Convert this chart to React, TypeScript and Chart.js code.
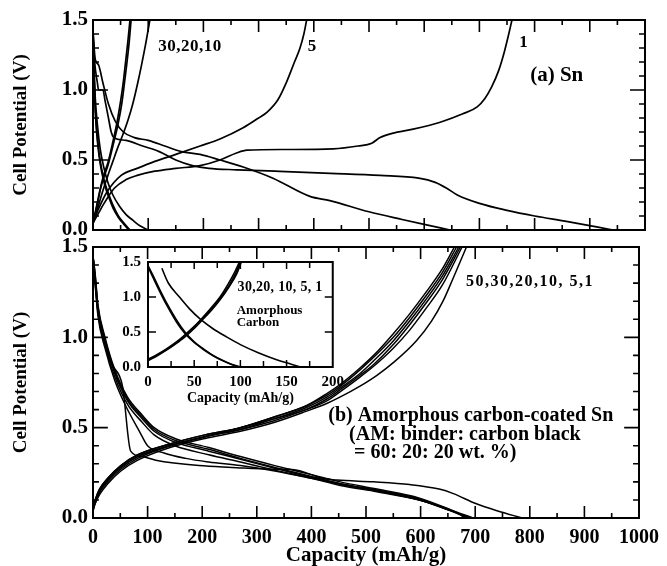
import { useEffect, useRef } from "react";
import { Chart, registerables } from "chart.js";

Chart.register(...registerables);

const SERIF = "'Liberation Serif', 'Times New Roman', Times, serif";

type Pt = [number, number];

// ---------- (a) Sn electrode: [capacity (mAh/g), cell potential (V)] ----------
const snCharge1: Pt[] = [[0,0.05],[10,0.12],[20,0.19],[39,0.3],[60,0.36],[80,0.39],[112,0.42],[150,0.44],[194,0.46],[230,0.5],[260,0.55],[279,0.57],[350,0.575],[435,0.58],[480,0.6],[505,0.62],[520,0.66],[542,0.69],[580,0.72],[629,0.77],[670,0.83],[696,0.88],[710,0.94],[722,1.02],[735,1.14],[745,1.27],[752,1.38],[759,1.5]];
const snDischarge1: Pt[] = [[0,1.42],[3,1.2],[8,1.05],[10,1.0],[18,1.0],[22,0.92],[28,0.8],[33,0.7],[38,0.66],[60,0.64],[90,0.6],[120,0.56],[150,0.5],[180,0.46],[210,0.44],[260,0.43],[330,0.42],[430,0.405],[520,0.39],[590,0.37],[620,0.34],[640,0.3],[660,0.25],[700,0.19],[750,0.14],[800,0.1],[860,0.06],[942,0]];
const snCharge5: Pt[] = [[0,0.05],[10,0.15],[25,0.27],[51,0.39],[80,0.44],[112,0.49],[150,0.54],[194,0.6],[230,0.65],[272,0.73],[300,0.8],[315,0.84],[335,0.93],[351,1.06],[365,1.2],[375,1.3],[382,1.4],[387,1.5]];
const snDischarge5: Pt[] = [[0,1.42],[4,1.22],[10,1.18],[18,1.05],[28,0.9],[40,0.78],[55,0.7],[75,0.66],[100,0.64],[130,0.6],[160,0.56],[194,0.54],[230,0.5],[272,0.45],[326,0.37],[393,0.24],[429,0.21],[500,0.13],[560,0.075],[600,0.04],[647,0]];
const snCharge10: Pt[] = [[0,0.05],[8,0.15],[17,0.27],[27,0.39],[36,0.49],[45,0.59],[54,0.68],[63,0.78],[72,0.9],[81,1.05],[88,1.18],[95,1.32],[103,1.5]];
const snDischarge10: Pt[] = [[0,1.4],[2,1.15],[4,0.95],[8,0.75],[13,0.58],[20,0.44],[27,0.34],[36,0.25],[48,0.17],[60,0.11],[72,0.07],[85,0.03],[100,0]];
const snCharge20: Pt[] = [[0,0.05],[7,0.17],[14,0.3],[20,0.38],[27,0.46],[36,0.6],[45,0.75],[52,0.9],[57,1.05],[61,1.18],[65,1.32],[69,1.5]];
const snDischarge20: Pt[] = [[0,1.4],[2,1.1],[4,0.88],[7,0.7],[11,0.55],[16,0.43],[22,0.33],[29,0.25],[37,0.17],[46,0.1],[56,0.05],[67,0]];
const snCharge30: Pt[] = [[0,0.05],[7,0.18],[14,0.31],[20,0.4],[27,0.48],[36,0.63],[44,0.78],[50,0.92],[55,1.06],[59,1.2],[63,1.34],[67,1.5]];
const snDischarge30: Pt[] = [[0,1.4],[2,1.08],[4,0.86],[7,0.68],[11,0.53],[16,0.41],[22,0.31],[29,0.23],[37,0.15],[46,0.09],[56,0.04],[65,0]];

// ---------- (b) amorphous carbon-coated Sn ----------
const csCharge50: Pt[] = [[0,0.05],[4,0.1],[12,0.16],[27,0.22],[51,0.29],[82,0.35],[141,0.41],[205,0.46],[270,0.5],[333,0.56],[390,0.62],[429,0.69],[453,0.74],[489,0.83],[514,0.9],[550,1.02],[580,1.13],[610,1.25],[640,1.38],[662,1.5]];
const csCharge30: Pt[] = [[0,0.06],[4,0.1],[12,0.16],[27,0.22],[51,0.29],[82,0.35],[141,0.41],[205,0.46],[270,0.5],[333,0.56],[390,0.62],[429,0.68],[453,0.73],[489,0.82],[514,0.89],[550,1.0],[580,1.11],[610,1.23],[640,1.36],[666,1.5]];
const csCharge20: Pt[] = [[0,0.05],[4,0.09],[12,0.15],[27,0.21],[51,0.28],[82,0.34],[141,0.4],[205,0.45],[270,0.5],[333,0.55],[390,0.61],[429,0.67],[453,0.72],[489,0.8],[514,0.87],[550,0.98],[580,1.09],[610,1.21],[640,1.34],[670,1.5]];
const csCharge10: Pt[] = [[0,0.05],[4,0.09],[12,0.15],[27,0.21],[51,0.28],[82,0.34],[141,0.4],[205,0.45],[270,0.49],[333,0.55],[390,0.6],[429,0.66],[453,0.71],[489,0.79],[514,0.85],[550,0.96],[580,1.07],[610,1.19],[640,1.32],[673,1.5]];
const csCharge5: Pt[] = [[0,0.04],[4,0.08],[12,0.14],[27,0.2],[51,0.27],[82,0.33],[141,0.4],[205,0.45],[270,0.49],[333,0.54],[390,0.6],[429,0.65],[453,0.7],[489,0.78],[514,0.84],[550,0.94],[580,1.04],[610,1.16],[640,1.29],[676,1.5]];
const csCharge1: Pt[] = [[0,0.04],[4,0.08],[12,0.13],[27,0.19],[51,0.26],[82,0.32],[141,0.39],[205,0.44],[270,0.48],[333,0.53],[390,0.59],[429,0.635],[453,0.67],[489,0.73],[520,0.79],[550,0.86],[592,0.98],[620,1.09],[641,1.2],[660,1.33],[684,1.5]];
const csDischarge50: Pt[] = [[0,1.45],[4,1.35],[9,1.18],[22,1.0],[40,0.82],[63,0.67],[90,0.57],[112,0.5],[150,0.44],[212,0.39],[270,0.34],[333,0.29],[400,0.24],[453,0.2],[520,0.16],[598,0.11],[647,0.055],[672,0.02],[680,0]];
const csDischarge30: Pt[] = [[0,1.45],[4,1.34],[9,1.17],[22,0.99],[40,0.81],[63,0.66],[90,0.56],[112,0.49],[150,0.43],[212,0.38],[270,0.33],[333,0.28],[400,0.23],[453,0.19],[520,0.155],[598,0.105],[647,0.05],[676,0.015],[684,0]];
const csDischarge20: Pt[] = [[0,1.45],[4,1.33],[9,1.16],[22,0.98],[40,0.8],[63,0.65],[90,0.55],[112,0.48],[150,0.42],[212,0.37],[270,0.325],[333,0.275],[400,0.225],[453,0.185],[520,0.15],[598,0.1],[650,0.045],[688,0]];
const csDischarge10: Pt[] = [[0,1.44],[4,1.31],[9,1.14],[22,0.96],[40,0.78],[63,0.63],[90,0.53],[112,0.46],[150,0.4],[212,0.35],[270,0.31],[333,0.265],[400,0.22],[453,0.18],[520,0.145],[598,0.1],[652,0.045],[692,0]];
const csDischarge5: Pt[] = [[0,1.44],[4,1.29],[9,1.12],[22,0.94],[40,0.76],[60,0.62],[85,0.48],[100,0.4],[130,0.36],[170,0.33],[212,0.31],[270,0.29],[333,0.26],[400,0.22],[453,0.19],[520,0.15],[598,0.1],[655,0.045],[696,0]];
const csDischarge1: Pt[] = [[0,1.45],[4,1.3],[10,1.12],[22,0.96],[35,0.85],[54,0.73],[69,0.37],[90,0.34],[115,0.32],[194,0.29],[254,0.28],[330,0.27],[360,0.27],[380,0.26],[400,0.24],[420,0.22],[447,0.21],[514,0.2],[580,0.185],[634,0.16],[660,0.135],[701,0.08],[740,0.04],[786,0]];

// ---------- inset: amorphous carbon ----------
const acCharge30: Pt[] = [[0,0.1],[10,0.17],[20,0.25],[30,0.34],[40,0.45],[50,0.57],[58,0.68],[68,0.82],[78,0.98],[88,1.17],[95,1.34],[100,1.5]];
const acCharge10: Pt[] = [[0,0.11],[10,0.18],[20,0.26],[30,0.35],[40,0.46],[50,0.58],[58,0.69],[68,0.84],[78,1.0],[87,1.19],[94,1.36],[99,1.5]];
const acCharge1: Pt[] = [[0,0.09],[10,0.16],[20,0.24],[30,0.33],[40,0.43],[50,0.55],[58,0.66],[68,0.8],[78,0.96],[88,1.15],[96,1.33],[101,1.5]];
const acDischarge30: Pt[] = [[0,1.45],[5,1.32],[13,1.1],[20,0.92],[31,0.67],[40,0.5],[50,0.36],[60,0.26],[70,0.17],[80,0.1],[90,0.04],[98,0]];
const acDischarge10: Pt[] = [[0,1.43],[5,1.29],[13,1.07],[20,0.89],[31,0.64],[40,0.48],[50,0.35],[60,0.25],[70,0.165],[80,0.095],[90,0.04],[100,0]];
const acDischarge1: Pt[] = [[15,1.41],[22,1.2],[34,1.0],[45,0.83],[56,0.69],[70,0.55],[85,0.43],[100,0.32],[120,0.2],[140,0.1],[155,0.04],[165,0]];

// ---------- tick labels ----------
const potentialTicks = [0, 0.5, 1.0, 1.5];
const capacityTicks = [0, 100, 200, 300, 400, 500, 600, 700, 800, 900, 1000];
const insetCapacityTicks = [0, 50, 100, 150, 200];

// ---------- helpers ----------
const curve = (pts: Pt[], width = 1.7) => ({
  data: pts.map(([x, y]) => ({ x, y })),
  borderColor: "#000",
  borderWidth: width,
  pointRadius: 0,
  fill: false,
  cubicInterpolationMode: "monotone" as const,
});

type Note = { text: string; x: number; y: number; size: number; spacing?: number };

type FrameSpec = {
  xMin: number; xMax: number; xStep: number; xMajorEvery: number; xLen: [number, number];
  yMin: number; yMax: number; yStep: number; yMajorEvery: number; yLen: [number, number];
  plotW: number; plotH: number; tickWidth: number; frameWidth: number;
};

// inward tick marks on all four sides, as broken line segments in data space
function tickMarks(f: FrameSpec) {
  const vPerPx = (f.yMax - f.yMin) / f.plotH;
  const uPerPx = (f.xMax - f.xMin) / f.plotW;
  const pts: { x: number; y: number | null }[] = [];
  const nx = Math.round((f.xMax - f.xMin) / f.xStep);
  for (let i = 1; i < nx; i++) {
    const v = f.xMin + i * f.xStep;
    const l = (i % f.xMajorEvery === 0 ? f.xLen[0] : f.xLen[1]) * vPerPx;
    pts.push({ x: v, y: f.yMin }, { x: v, y: f.yMin + l }, { x: v, y: null });
    pts.push({ x: v, y: f.yMax }, { x: v, y: f.yMax - l }, { x: v, y: null });
  }
  const ny = Math.round((f.yMax - f.yMin) / f.yStep);
  for (let i = 1; i < ny; i++) {
    const v = f.yMin + i * f.yStep;
    const l = (i % f.yMajorEvery === 0 ? f.yLen[0] : f.yLen[1]) * uPerPx;
    pts.push({ x: f.xMin, y: v }, { x: f.xMin + l, y: v }, { x: f.xMin, y: null });
    pts.push({ x: f.xMax, y: v }, { x: f.xMax - l, y: v }, { x: f.xMax, y: null });
  }
  return {
    data: pts,
    borderColor: "#000",
    borderWidth: f.tickWidth,
    pointRadius: 0,
    fill: false,
    spanGaps: false,
    tension: 0,
    borderCapStyle: "butt" as const,
  };
}

// box around the plot area, plus in-plot labels
const decorPlugin = (f: FrameSpec, notes: Note[]) => ({
  id: "decor",
  afterDraw(chart: any) {
    const ctx: CanvasRenderingContext2D = chart.ctx;
    const { left, right, top, bottom } = chart.chartArea;
    const xs = chart.scales.x;
    const ys = chart.scales.y;
    ctx.save();
    ctx.strokeStyle = "#000";
    ctx.lineWidth = f.frameWidth;
    ctx.strokeRect(left, top, right - left, bottom - top);
    ctx.fillStyle = "#000";
    ctx.textAlign = "left";
    ctx.textBaseline = "middle";
    for (const n of notes) {
      ctx.font = `bold ${n.size}px ${SERIF}`;
      (ctx as any).letterSpacing = `${n.spacing ?? 0}px`;
      ctx.fillText(n.text, xs.getPixelForValue(n.x), ys.getPixelForValue(n.y));
    }
    ctx.restore();
  },
});

const tickFont = (size: number) => ({ family: SERIF, size, weight: "bold" as const });

const yScale = (size: number, pad: number, width: number, title?: string) => ({
  type: "linear" as const,
  min: 0,
  max: 1.5,
  afterBuildTicks: (sc: any) => { sc.ticks = potentialTicks.map((value) => ({ value })); },
  afterFit: (sc: any) => { sc.width = width; },
  grid: { display: false, drawTicks: false },
  border: { display: false },
  ticks: { color: "#000", font: tickFont(size), padding: pad, callback: (v: any) => Number(v).toFixed(1) },
  title: title
    ? { display: true, text: title, color: "#000", font: { family: SERIF, size: 19, weight: "bold" as const, lineHeight: 1.2 }, padding: { top: 10, bottom: 0 } }
    : { display: false },
});

const xTicks = (values: number[], size: number, pad: number) => ({
  afterBuildTicks: (sc: any) => { sc.ticks = values.map((value) => ({ value })); },
  grid: { display: false, drawTicks: false },
  border: { display: false },
  ticks: { color: "#000", font: tickFont(size), padding: pad, maxRotation: 0, autoSkip: false, callback: (v: any) => String(v) },
});

function makeConfig(datasets: any[], scales: any, padding: any, plugin: any) {
  return {
    type: "line" as const,
    data: { datasets },
    options: {
      animation: false as const,
      responsive: false,
      devicePixelRatio: 1,
      layout: { padding },
      plugins: { legend: { display: false }, tooltip: { enabled: false } },
      scales,
    },
    plugins: [plugin],
  };
}

function ChartCanvas({ left, top, width, height, build }: { left: number; top: number; width: number; height: number; build: () => any }) {
  const ref = useRef<HTMLCanvasElement | null>(null);
  useEffect(() => {
    const chart = new Chart(ref.current as HTMLCanvasElement, build());
    return () => chart.destroy();
  }, []);
  return (
    <canvas
      ref={ref}
      width={width}
      height={height}
      style={{ position: "absolute", left, top, width, height, display: "block" }}
    />
  );
}

const topFrame: FrameSpec = {
  xMin: 0, xMax: 1000, xStep: 50, xMajorEvery: 2, xLen: [12, 5],
  yMin: 0, yMax: 1.5, yStep: 0.1, yMajorEvery: 5, yLen: [15, 6],
  plotW: 552, plotH: 210, tickWidth: 1.6, frameWidth: 2,
};

const bottomFrame: FrameSpec = { ...topFrame, plotH: 271 };

const insetFrame: FrameSpec = {
  xMin: 0, xMax: 200, xStep: 25, xMajorEvery: 2, xLen: [7, 6],
  yMin: 0, yMax: 1.5, yStep: 0.5, yMajorEvery: 1, yLen: [8, 8],
  plotW: 185, plotH: 105, tickWidth: 1.5, frameWidth: 2,
};

const buildTop = () =>
  makeConfig(
    [
      ...[snCharge1, snDischarge1, snCharge5, snDischarge5, snCharge10, snDischarge10, snCharge20, snDischarge20, snCharge30, snDischarge30].map((p) => curve(p)),
      tickMarks(topFrame),
    ],
    {
      x: { type: "linear", min: 0, max: 1000, display: false },
      y: yScale(21, 5, 93, "Cell Potential (V)"),
    },
    { top: 20, right: 22, bottom: 25, left: 0 },
    decorPlugin(topFrame, [
      { text: "30,20,10", x: 118, y: 1.31, size: 17, spacing: 0.5 },
      { text: "5", x: 389, y: 1.31, size: 17 },
      { text: "1", x: 772, y: 1.34, size: 17 },
      { text: "(a) Sn", x: 792, y: 1.1, size: 21 },
    ])
  );

const buildBottom = () =>
  makeConfig(
    [
      ...[csCharge50, csCharge30, csCharge20, csCharge10, csCharge5, csCharge1, csDischarge50, csDischarge30, csDischarge20, csDischarge10, csDischarge5, csDischarge1].map((p) => curve(p, 1.5)),
      tickMarks(bottomFrame),
    ],
    {
      x: {
        type: "linear",
        min: 0,
        max: 1000,
        afterFit: (sc: any) => { sc.height = 48; },
        ...xTicks(capacityTicks, 20, 8),
        title: { display: true, text: "Capacity (mAh/g)", color: "#000", font: { family: SERIF, size: 21, weight: "bold", lineHeight: 1 }, padding: { top: 0, bottom: 0 } },
      },
      y: yScale(21, 5, 93, "Cell Potential (V)"),
    },
    { top: 25, right: 22, bottom: 0, left: 0 },
    decorPlugin(bottomFrame, [
      { text: "50,30,20,10, 5,1", x: 683, y: 1.306, size: 16, spacing: 1.5 },
      { text: "(b) Amorphous carbon-coated Sn", x: 431, y: 0.565, size: 20 },
      { text: "(AM: binder: carbon black", x: 469, y: 0.46, size: 20 },
      { text: "= 60: 20: 20 wt. %)", x: 478, y: 0.36, size: 20 },
    ])
  );

const buildInset = () =>
  makeConfig(
    [
      ...[acCharge30, acCharge10, acCharge1, acDischarge30, acDischarge10, acDischarge1].map((p) => curve(p, 1.6)),
      tickMarks(insetFrame),
    ],
    {
      x: {
        type: "linear",
        min: 0,
        max: 200,
        afterFit: (sc: any) => { sc.height = 48; },
        ...xTicks(insetCapacityTicks, 15, 6),
        title: { display: true, text: "Capacity (mAh/g)", color: "#000", font: { family: SERIF, size: 14, weight: "bold", lineHeight: 1 }, padding: { top: 0, bottom: 10 } },
      },
      y: yScale(15, 7, 48),
    },
    { top: 22, right: 17, bottom: 0, left: 0 },
    decorPlugin(insetFrame, [
      { text: "30,20, 10, 5, 1", x: 97, y: 1.14, size: 14, spacing: 0.3 },
      { text: "Amorphous", x: 96, y: 0.81, size: 13 },
      { text: "Carbon", x: 96, y: 0.63, size: 13 },
    ])
  );

export default function App() {
  return (
    <div style={{ position: "absolute", left: 0, top: 0, width: 667, height: 566, background: "#fff", overflow: "hidden" }}>
      <ChartCanvas left={0} top={0} width={667} height={255} build={buildTop} />
      <ChartCanvas left={0} top={222} width={667} height={344} build={buildBottom} />
      <ChartCanvas left={100} top={240} width={250} height={175} build={buildInset} />
    </div>
  );
}
